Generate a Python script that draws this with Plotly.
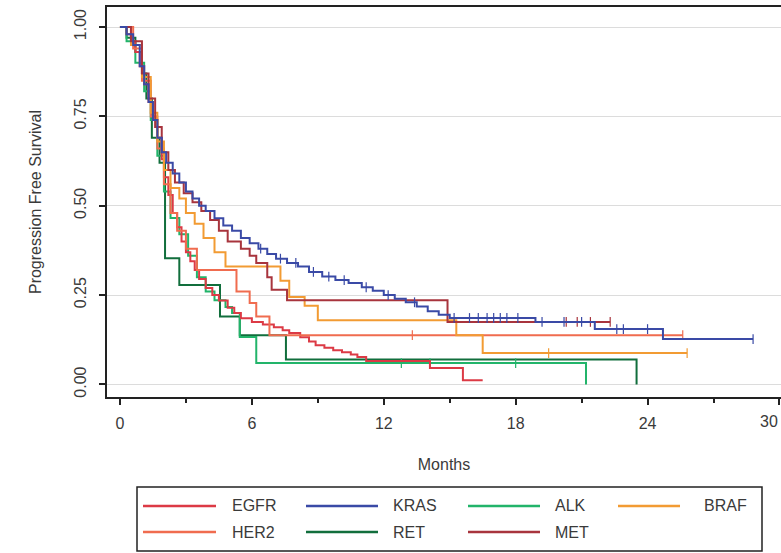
import plotly.graph_objects as go

# ---------------- data ----------------
month_ticks = [0, 6, 12, 18, 24, 30]
month_minor_ticks = [3, 9, 15, 21, 27]
surv_ticks = [0.0, 0.25, 0.5, 0.75, 1.0]
surv_tick_labels = ["0.00", "0.25", "0.50", "0.75", "1.00"]

series_names = ["EGFR", "KRAS", "ALK", "BRAF", "HER2", "RET", "MET"]
series_colors = ["#dc3a45", "#3a4aa6", "#22b46a", "#f29b33", "#f06c4f", "#116e3c", "#a8343d"]

egfr_t = [0, 0.3, 0.5, 0.7, 0.9, 1.1, 1.3, 1.5, 1.7, 1.9, 2.0, 2.2, 2.4, 2.6, 2.8, 3.0, 3.2, 3.4, 3.6,
          3.9, 4.2, 4.5, 4.9, 5.2, 5.5, 6.0, 6.5, 7.0, 7.4, 7.7, 8.2, 8.6, 8.9, 9.3, 9.7, 10.1, 10.5,
          10.8, 11.2, 14.1, 15.6, 16.5]
egfr_s = [1.0, 0.98, 0.96, 0.93, 0.89, 0.84, 0.79, 0.74, 0.69, 0.63, 0.58, 0.53, 0.48, 0.44, 0.40, 0.37,
          0.345, 0.32, 0.295, 0.27, 0.25, 0.235, 0.215, 0.20, 0.185, 0.175, 0.168, 0.16, 0.152, 0.144,
          0.132, 0.12, 0.11, 0.103, 0.096, 0.09, 0.084, 0.077, 0.066, 0.046, 0.012, 0.012]
egfr_cens = []

kras_t = [0, 0.3, 0.6, 0.9, 1.1, 1.3, 1.5, 1.7, 1.9, 2.1, 2.4, 2.7, 3.0, 3.3, 3.6, 3.9, 4.3, 4.7, 5.1,
          5.5, 5.9, 6.3, 6.7, 7.1, 7.6, 8.1, 8.6, 9.2, 9.8, 10.4, 11.0, 11.5, 12.0, 12.5, 13.0, 13.5,
          14.0, 14.5, 15.0, 18.9, 21.6, 24.7, 28.8]
kras_s = [1.0, 0.98, 0.95, 0.89, 0.84, 0.79, 0.74, 0.69, 0.65, 0.62, 0.59, 0.565, 0.54, 0.52, 0.50,
          0.485, 0.465, 0.445, 0.43, 0.41, 0.395, 0.38, 0.365, 0.352, 0.34, 0.33, 0.315, 0.302, 0.292,
          0.284, 0.272, 0.262, 0.25, 0.24, 0.23, 0.218, 0.205, 0.195, 0.186, 0.175, 0.155, 0.127, 0.127]
kras_cens = [6.4, 7.3, 8.0, 8.8, 9.5, 10.2, 11.2, 12.2, 13.4, 15.2, 15.9, 16.3, 16.7, 17.0, 17.3, 17.6,
             18.1, 19.2, 20.2, 21.0, 22.6, 22.9, 24.0, 28.8]

alk_t = [0, 0.3, 0.7, 1.1, 1.4, 1.7, 2.0, 2.3, 2.7, 3.1, 3.5, 3.9, 4.3, 4.8, 5.1, 5.45, 6.2, 21.2]
alk_s = [1.0, 0.96, 0.90, 0.82, 0.74, 0.64, 0.54, 0.466, 0.42, 0.36, 0.30, 0.26, 0.236, 0.217, 0.20,
         0.133, 0.06, 0.0]
alk_cens = [12.8, 14.1, 18.0]

braf_t = [0, 0.5, 1.0, 1.4, 1.7, 2.0, 2.3, 2.7, 3.0, 3.4, 3.8, 4.3, 4.8, 7.3, 7.7, 8.4, 9.0, 15.3, 16.5, 25.8]
braf_s = [1.0, 0.95, 0.86, 0.76, 0.68, 0.60, 0.55, 0.52, 0.48, 0.45, 0.41, 0.37, 0.33, 0.29, 0.245,
          0.22, 0.18, 0.138, 0.088, 0.088]
braf_cens = [19.5, 25.8]

her2_t = [0, 0.6, 1.0, 1.4, 1.7, 2.0, 2.3, 2.6, 3.0, 3.5, 5.3, 5.9, 6.2, 6.8, 25.6]
her2_s = [1.0, 0.94, 0.85, 0.75, 0.66, 0.56, 0.48, 0.43, 0.38, 0.32, 0.26, 0.228, 0.19, 0.138, 0.138]
her2_cens = [13.3, 25.6]

ret_t = [0, 0.3, 0.7, 1.0, 1.2, 1.45, 1.8, 2.05, 2.7, 4.55, 5.45, 7.55, 23.5]
ret_s = [1.0, 0.97, 0.93, 0.87, 0.80, 0.69, 0.62, 0.353, 0.278, 0.19, 0.138, 0.07, 0.0]
ret_cens = []

met_t = [0, 0.5, 1.0, 1.3, 1.6, 1.9, 2.2, 2.5, 2.9, 3.3, 3.7, 4.1, 4.5, 4.9, 5.5, 5.9, 6.2, 6.7, 6.9,
         7.6, 14.9, 22.3]
met_s = [1.0, 0.96, 0.87, 0.80, 0.72, 0.65, 0.60, 0.565, 0.535, 0.51, 0.485, 0.46, 0.43, 0.40, 0.38,
         0.36, 0.34, 0.30, 0.265, 0.236, 0.175, 0.175]
met_cens = [20.3, 20.8, 21.4, 22.3]

series_t = [egfr_t, kras_t, alk_t, braf_t, her2_t, ret_t, met_t]
series_s = [egfr_s, kras_s, alk_s, braf_s, her2_s, ret_s, met_s]
series_cens = [egfr_cens, kras_cens, alk_cens, braf_cens, her2_cens, ret_cens, met_cens]

# ---------------- figure ----------------
W, H = 781, 553
ML, MR, MT, MB = 107, 0, 7, 156
PW, PH = W - ML - MR, H - MT - MB


def step_value(ts, ss, t):
    v = ss[0]
    for ti, si in zip(ts, ss):
        if ti <= t:
            v = si
    return v


fig = go.Figure()
draw_order = [5, 2, 0, 4, 3, 6, 1]
for i in draw_order:
    fig.add_trace(go.Scatter(
        x=series_t[i], y=series_s[i], mode="lines", name=series_names[i],
        line=dict(color=series_colors[i], width=2, shape="hv"),
        showlegend=False, hoverinfo="skip"))
    if series_cens[i]:
        fig.add_trace(go.Scatter(
            x=series_cens[i],
            y=[step_value(series_t[i], series_s[i], c) for c in series_cens[i]],
            mode="markers", showlegend=False, hoverinfo="skip",
            marker=dict(symbol="line-ns", size=7,
                        line=dict(color=series_colors[i], width=1.2))))

font_family = "Liberation Sans, Arial, sans-serif"
text_color = "#3a3a3a"

fig.update_layout(
    width=W, height=H,
    margin=dict(l=ML, r=MR, t=MT, b=MB, autoexpand=False),
    paper_bgcolor="white", plot_bgcolor="white",
    font=dict(family=font_family, size=16, color=text_color),
    showlegend=False,
)

fig.update_xaxes(
    range=[-0.59, 30.07],
    automargin=False,
    tickmode="array", tickvals=month_ticks, ticktext=[str(v) for v in month_ticks],
    ticks="outside", ticklen=6, tickwidth=1.5, tickcolor="#222",
    minor=dict(tickmode="array", tickvals=month_minor_ticks, ticks="outside",
               ticklen=4, tickwidth=1.5, tickcolor="#222", showgrid=False),
    showline=True, linecolor="#222", linewidth=2, mirror=True,
    showgrid=False, zeroline=False,
    tickfont=dict(size=16, color=text_color),
    ticklabelstandoff=5,
    title=dict(text="Months", font=dict(size=16, color=text_color), standoff=28),
)

fig.update_yaxes(
    range=[-0.035, 1.056],
    automargin=False,
    tickmode="array", tickvals=surv_ticks, ticktext=surv_tick_labels,
    tickangle=-90,
    ticks="outside", ticklen=6, tickwidth=1.5, tickcolor="#222",
    showline=True, linecolor="#222", linewidth=2, mirror=False,
    showgrid=True, gridcolor="#dcdcdc", gridwidth=1, zeroline=False,
    tickfont=dict(size=16, color=text_color),
    ticklabelstandoff=7,
    title=dict(text="Progression Free Survival", font=dict(size=16, color=text_color), standoff=26),
)


# ---------------- helpers for pixel placement of non-data elements ----------------
def px_x(px):
    return (px - ML) / PW


def px_y(py):
    return (H - MB - py) / PH


# the last x tick label sits at the page edge; keep it fully inside the page
fig.add_annotation(xref="paper", yref="paper", x=1.0, y=px_y(421),
                   text=str(month_ticks[-1]), showarrow=False,
                   xanchor="right", yanchor="middle", xshift=-1,
                   font=dict(size=16, color=text_color, family=font_family))

# ---------------- legend box ----------------
box_l, box_r, box_t, box_b = 137, 762, 487, 551
fig.add_shape(type="rect", xref="paper", yref="paper",
              x0=px_x(box_l), x1=px_x(box_r), y0=px_y(box_b), y1=px_y(box_t),
              line=dict(color="#222", width=1.5), fillcolor="rgba(0,0,0,0)", layer="above")

col_starts = [143, 306, 468, 618]
col_line_len = [73, 72, 72, 62]
col_text_x = [230, 391, 553, 702]
row_y0 = 506
row_step = 26
for k, (name, color) in enumerate(zip(series_names, series_colors)):
    r, c = divmod(k, 4)
    x0 = col_starts[c]
    y = row_y0 + r * row_step
    fig.add_shape(type="line", xref="paper", yref="paper",
                  x0=px_x(x0), x1=px_x(x0 + col_line_len[c]), y0=px_y(y), y1=px_y(y),
                  line=dict(color=color, width=2.5))
    fig.add_annotation(xref="paper", yref="paper", x=px_x(col_text_x[c]), y=px_y(y),
                       text=name, showarrow=False, xanchor="left", yanchor="middle",
                       font=dict(size=16, color=text_color, family=font_family))

fig.write_html("out.html", config={"displayModeBar": False},
               post_script="document.body.style.margin='0px';")
